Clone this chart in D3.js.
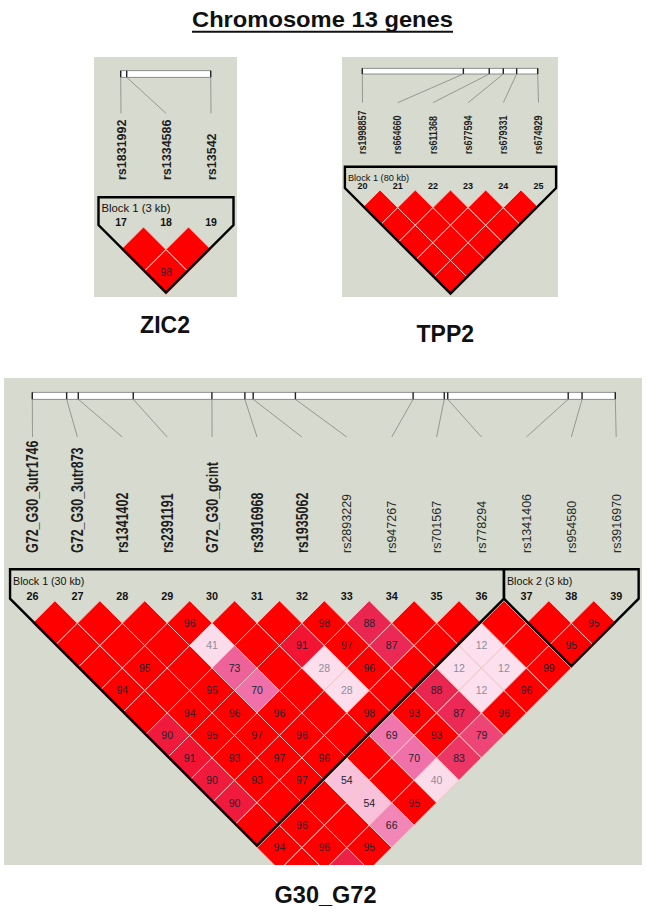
<!DOCTYPE html>
<html><head><meta charset="utf-8">
<script src="https://cdn.jsdelivr.net/npm/d3@7"></script>
<style>body{margin:0;background:#fff}svg{display:block}</style>
</head><body>
<svg id="c" width="647" height="916"></svg>
<script>
// ---------------- DATA ----------------
const chartTitle = "Chromosome 13 genes";

const zic2Title = "ZIC2";
const zic2Names = ["rs1831992", "rs1334586", "rs13542"];
const zic2Numbers = [17, 18, 19];
const zic2PosKb = [0, 0.2, 3.0];
// D' (x100) for pair (i, j>i); 100 = D'=1 (no number shown)
const zic2Dprime = [[100, 98], [100]];
const zic2BlockLabels = ["Block 1 (3 kb)"];
const zic2BlockFrom = [0];
const zic2BlockTo = [2];

const tpp2Title = "TPP2";
const tpp2Names = ["rs1998857", "rs664660", "rs611368", "rs677594", "rs679331", "rs674929"];
const tpp2Numbers = [20, 21, 22, 23, 24, 25];
const tpp2PosKb = [0, 46.1, 57.9, 64.3, 70.4, 80];
const tpp2Dprime = [[100,100,100,100,100],[100,100,100,100],[100,100,100],[100,100],[100]];
const tpp2BlockLabels = ["Block 1 (80 kb)"];
const tpp2BlockFrom = [0];
const tpp2BlockTo = [5];

const g30Title = "G30_G72";
const g30Names = ["G72_G30_3utr1746", "G72_G30_3utr873", "rs1341402", "rs2391191", "G72_G30_gcint",
  "rs3916968", "rs1935062", "rs2893229", "rs947267", "rs701567", "rs778294", "rs1341406", "rs954580", "rs3916970"];
const g30Numbers = [26, 27, 28, 29, 30, 31, 32, 33, 34, 35, 36, 37, 38, 39];
const g30PosKb = [0, 2.48, 3.32, 7.29, 12.97, 15.35, 15.95, 19.0, 27.5, 29.75, 30.0, 38.7, 39.7, 42.1];
const g30Dprime = [
  [100,100,100,94,100,90,91,90,90,100,94,100,100],
  [100,100,95,100,94,95,93,93,100,96,96,89],
  [100,100,100,95,96,97,97,97,100,100,95],
  [96,41,73,70,96,96,96,54,54,66],
  [100,100,100,100,100,100,100,100,95],
  [100,91,28,28,98,69,70,40],
  [98,97,96,100,93,93,83],
  [88,87,100,88,87,79],
  [100,100,12,12,96],
  [100,12,12,96],
  [100,100,99],
  [100,95],
  [95]
];
const g30BlockLabels = ["Block 1 (30 kb)", "Block 2 (3 kb)"];
const g30BlockFrom = [0, 11];
const g30BlockTo = [10, 13];

// ---------------- STYLE / LAYOUT ----------------
const FONT = "'Liberation Sans', Arial, Helvetica, sans-serif";
const BG = "#d6dacf";
const svg = d3.select("#c");

const ldColor = d3.scaleLinear()
  .domain([0, 45, 56, 70, 80, 88, 91, 93, 100])
  .range(["#fde2ee", "#fbdbeb", "#f8bcd6", "#f071aa", "#ee4070", "#ea2650", "#f21432", "#ff0000", "#ff0000"]);

function drawLD(cfg, names, nums, posKb, dprime, bLabels, bFrom, bTo, title) {
  const g = svg.append("g");
  g.append("rect").attr("x", cfg.px).attr("y", cfg.py).attr("width", cfg.pw).attr("height", cfg.ph).attr("fill", BG);
  const clipId = "clip" + cfg.id;
  svg.append("clipPath").attr("id", clipId).append("rect")
    .attr("x", cfg.px).attr("y", cfg.py).attr("width", cfg.pw).attr("height", cfg.ph);

  const n = names.length;
  const xs = d3.scaleLinear().domain([0, n - 1]).range([cfg.x0, cfg.x0 + cfg.step * (n - 1)]);
  const h = cfg.step / 2;
  const mapX = d3.scaleLinear().domain(d3.extent(posKb)).range([cfg.barX0, cfg.barX1]);

  // gene map bar
  g.append("rect").attr("x", cfg.barX0).attr("y", cfg.barY).attr("width", cfg.barX1 - cfg.barX0)
    .attr("height", cfg.barH).attr("fill", "#fff").attr("stroke", "#777").attr("stroke-width", 0.8);
  g.selectAll(".tick").data(posKb).join("line")
    .attr("x1", d => mapX(d)).attr("x2", d => mapX(d))
    .attr("y1", cfg.barY).attr("y2", cfg.barY + cfg.barH)
    .attr("stroke", "#222").attr("stroke-width", 1.4);
  g.selectAll(".conn").data(posKb).join("line")
    .attr("x1", d => mapX(d)).attr("x2", (d, i) => xs(i))
    .attr("y1", cfg.barY + cfg.barH).attr("y2", cfg.connY)
    .attr("stroke", "#8e918a").attr("stroke-width", 0.9);

  // SNP names (rotated)
  names.forEach((nm, i) => {
    const bold = i < cfg.boldCount;
    const sc = bold ? cfg.boldScale : 1;
    const cap = cfg.labelFont * 0.72 * sc;
    g.append("text")
      .attr("transform", `translate(${xs(i) + cap / 2},${cfg.labelY}) rotate(-90) scale(1,${sc})`)
      .attr("font-family", FONT).attr("font-size", cfg.labelFont)
      .attr("font-weight", bold ? "bold" : "normal")
      .attr("fill", bold ? "#1e1e1e" : "#2a2a2a")
      .attr("text-anchor", "start").text(nm);
  });

  // LD cells
  const cells = [];
  dprime.forEach((row, i) => row.forEach((v, k) => cells.push({ i, j: i + 1 + k, v })));
  const cg = g.append("g").attr("clip-path", `url(#${clipId})`);
  const cx = d => (xs(d.i) + xs(d.j)) / 2;
  const cy = d => cfg.rowTop + h * (d.j - d.i);
  cg.selectAll("polygon").data(cells).join("polygon")
    .attr("points", d => {
      const x = cx(d), y = cy(d);
      return [[x, y - h], [x + h, y], [x, y + h], [x - h, y]].map(p => p.join(",")).join(" ");
    })
    .attr("fill", d => ldColor(d.v)).attr("stroke", "#f2c7c3").attr("stroke-width", 1);
  cg.selectAll("text").data(cells.filter(d => d.v < 100)).join("text")
    .attr("x", cx).attr("y", d => cy(d) + cfg.cellFont * 0.36)
    .attr("text-anchor", "middle").attr("font-family", FONT).attr("font-size", cfg.cellFont)
    .attr("fill", d => d.v <= 45 ? "#8d8d9c" : "#222230").text(d => d.v);

  // SNP numbers
  g.selectAll(".num").data(nums).join("text")
    .attr("x", (d, i) => xs(i)).attr("y", cfg.rowTop - 0.8)
    .attr("text-anchor", "middle").attr("font-family", FONT).attr("font-weight", "bold")
    .attr("font-size", cfg.numFont).attr("fill", "#111").text(d => d);

  // Block outlines
  const off = -2;
  bLabels.forEach((lab, b) => {
    const a = bFrom[b], z = bTo[b];
    const xL = xs(a) - h, xR = xs(z) + h;
    const xB = (xs(a) + xs(z)) / 2;
    const yB = cfg.rowTop + h * (z - a) + h + off;
    const yC = yB - (xR - xL) / 2;
    const pts = [[xL, cfg.boxTop], [xR, cfg.boxTop], [xR, yC], [xB, yB], [xL, yC]];
    g.append("polygon").attr("points", pts.map(p => p.join(",")).join(" "))
      .attr("fill", "none").attr("stroke", "#000").attr("stroke-width", 2.4).attr("stroke-linejoin", "miter");
    g.append("text").attr("x", xL + 3).attr("y", cfg.blockLabelY)
      .attr("font-family", FONT).attr("font-size", cfg.blockFont).attr("fill", "#111").text(lab);
  });

  // panel title
  svg.append("text").attr("x", cfg.titleX).attr("y", cfg.titleY).attr("text-anchor", "middle")
    .attr("font-family", FONT).attr("font-weight", "bold").attr("font-size", cfg.titleFont)
    .attr("fill", "#111").text(title);
}

// main title
svg.append("text").attr("x", 322.5).attr("y", 27.3).attr("text-anchor", "middle")
  .attr("font-family", FONT).attr("font-weight", "bold").attr("font-size", 22)
  .attr("textLength", 261).attr("lengthAdjust", "spacingAndGlyphs")
  .attr("fill", "#111").text(chartTitle);
svg.append("line").attr("x1", 192).attr("x2", 453).attr("y1", 31.7).attr("y2", 31.7)
  .attr("stroke", "#111").attr("stroke-width", 2);

drawLD({ id: "z", px: 94, py: 57, pw: 143, ph: 240, x0: 121, step: 45, rowTop: 227,
  barX0: 120.7, barX1: 210.7, barY: 70.7, barH: 6.6, connY: 113.3, labelY: 180,
  labelFont: 12.5, boldCount: 99, boldScale: 1, boxTop: 197.3, blockLabelY: 211.7, blockFont: 11.3,
  numFont: 10.5, cellFont: 10.5, titleX: 165, titleY: 333.3, titleFont: 23 },
  zic2Names, zic2Numbers, zic2PosKb, zic2Dprime, zic2BlockLabels, zic2BlockFrom, zic2BlockTo, zic2Title);

drawLD({ id: "t", px: 342, py: 57, pw: 216, ph: 240, x0: 362.5, step: 35.2, rowTop: 190,
  barX0: 362.3, barX1: 537.7, barY: 68.3, barH: 5.7, connY: 102.7, labelY: 154,
  labelFont: 9, boldCount: 99, boldScale: 1.15, boxTop: 166.7, blockLabelY: 181, blockFont: 9.2,
  numFont: 9, cellFont: 9, titleX: 445.3, titleY: 341.7, titleFont: 23 },
  tpp2Names, tpp2Numbers, tpp2PosKb, tpp2Dprime, tpp2BlockLabels, tpp2BlockFrom, tpp2BlockTo, tpp2Title);

drawLD({ id: "g", px: 4, py: 378, pw: 638, ph: 487, x0: 32.5, step: 44.9, rowTop: 600.7,
  barX0: 32.3, barX1: 615.3, barY: 392.3, barH: 7, connY: 437, labelY: 553,
  labelFont: 12.5, boldCount: 7, boldScale: 1.3, boxTop: 569.3, blockLabelY: 585, blockFont: 10.7,
  numFont: 10.8, cellFont: 10.5, titleX: 325.5, titleY: 903.3, titleFont: 23.5 },
  g30Names, g30Numbers, g30PosKb, g30Dprime, g30BlockLabels, g30BlockFrom, g30BlockTo, g30Title);
</script>
</body></html>
